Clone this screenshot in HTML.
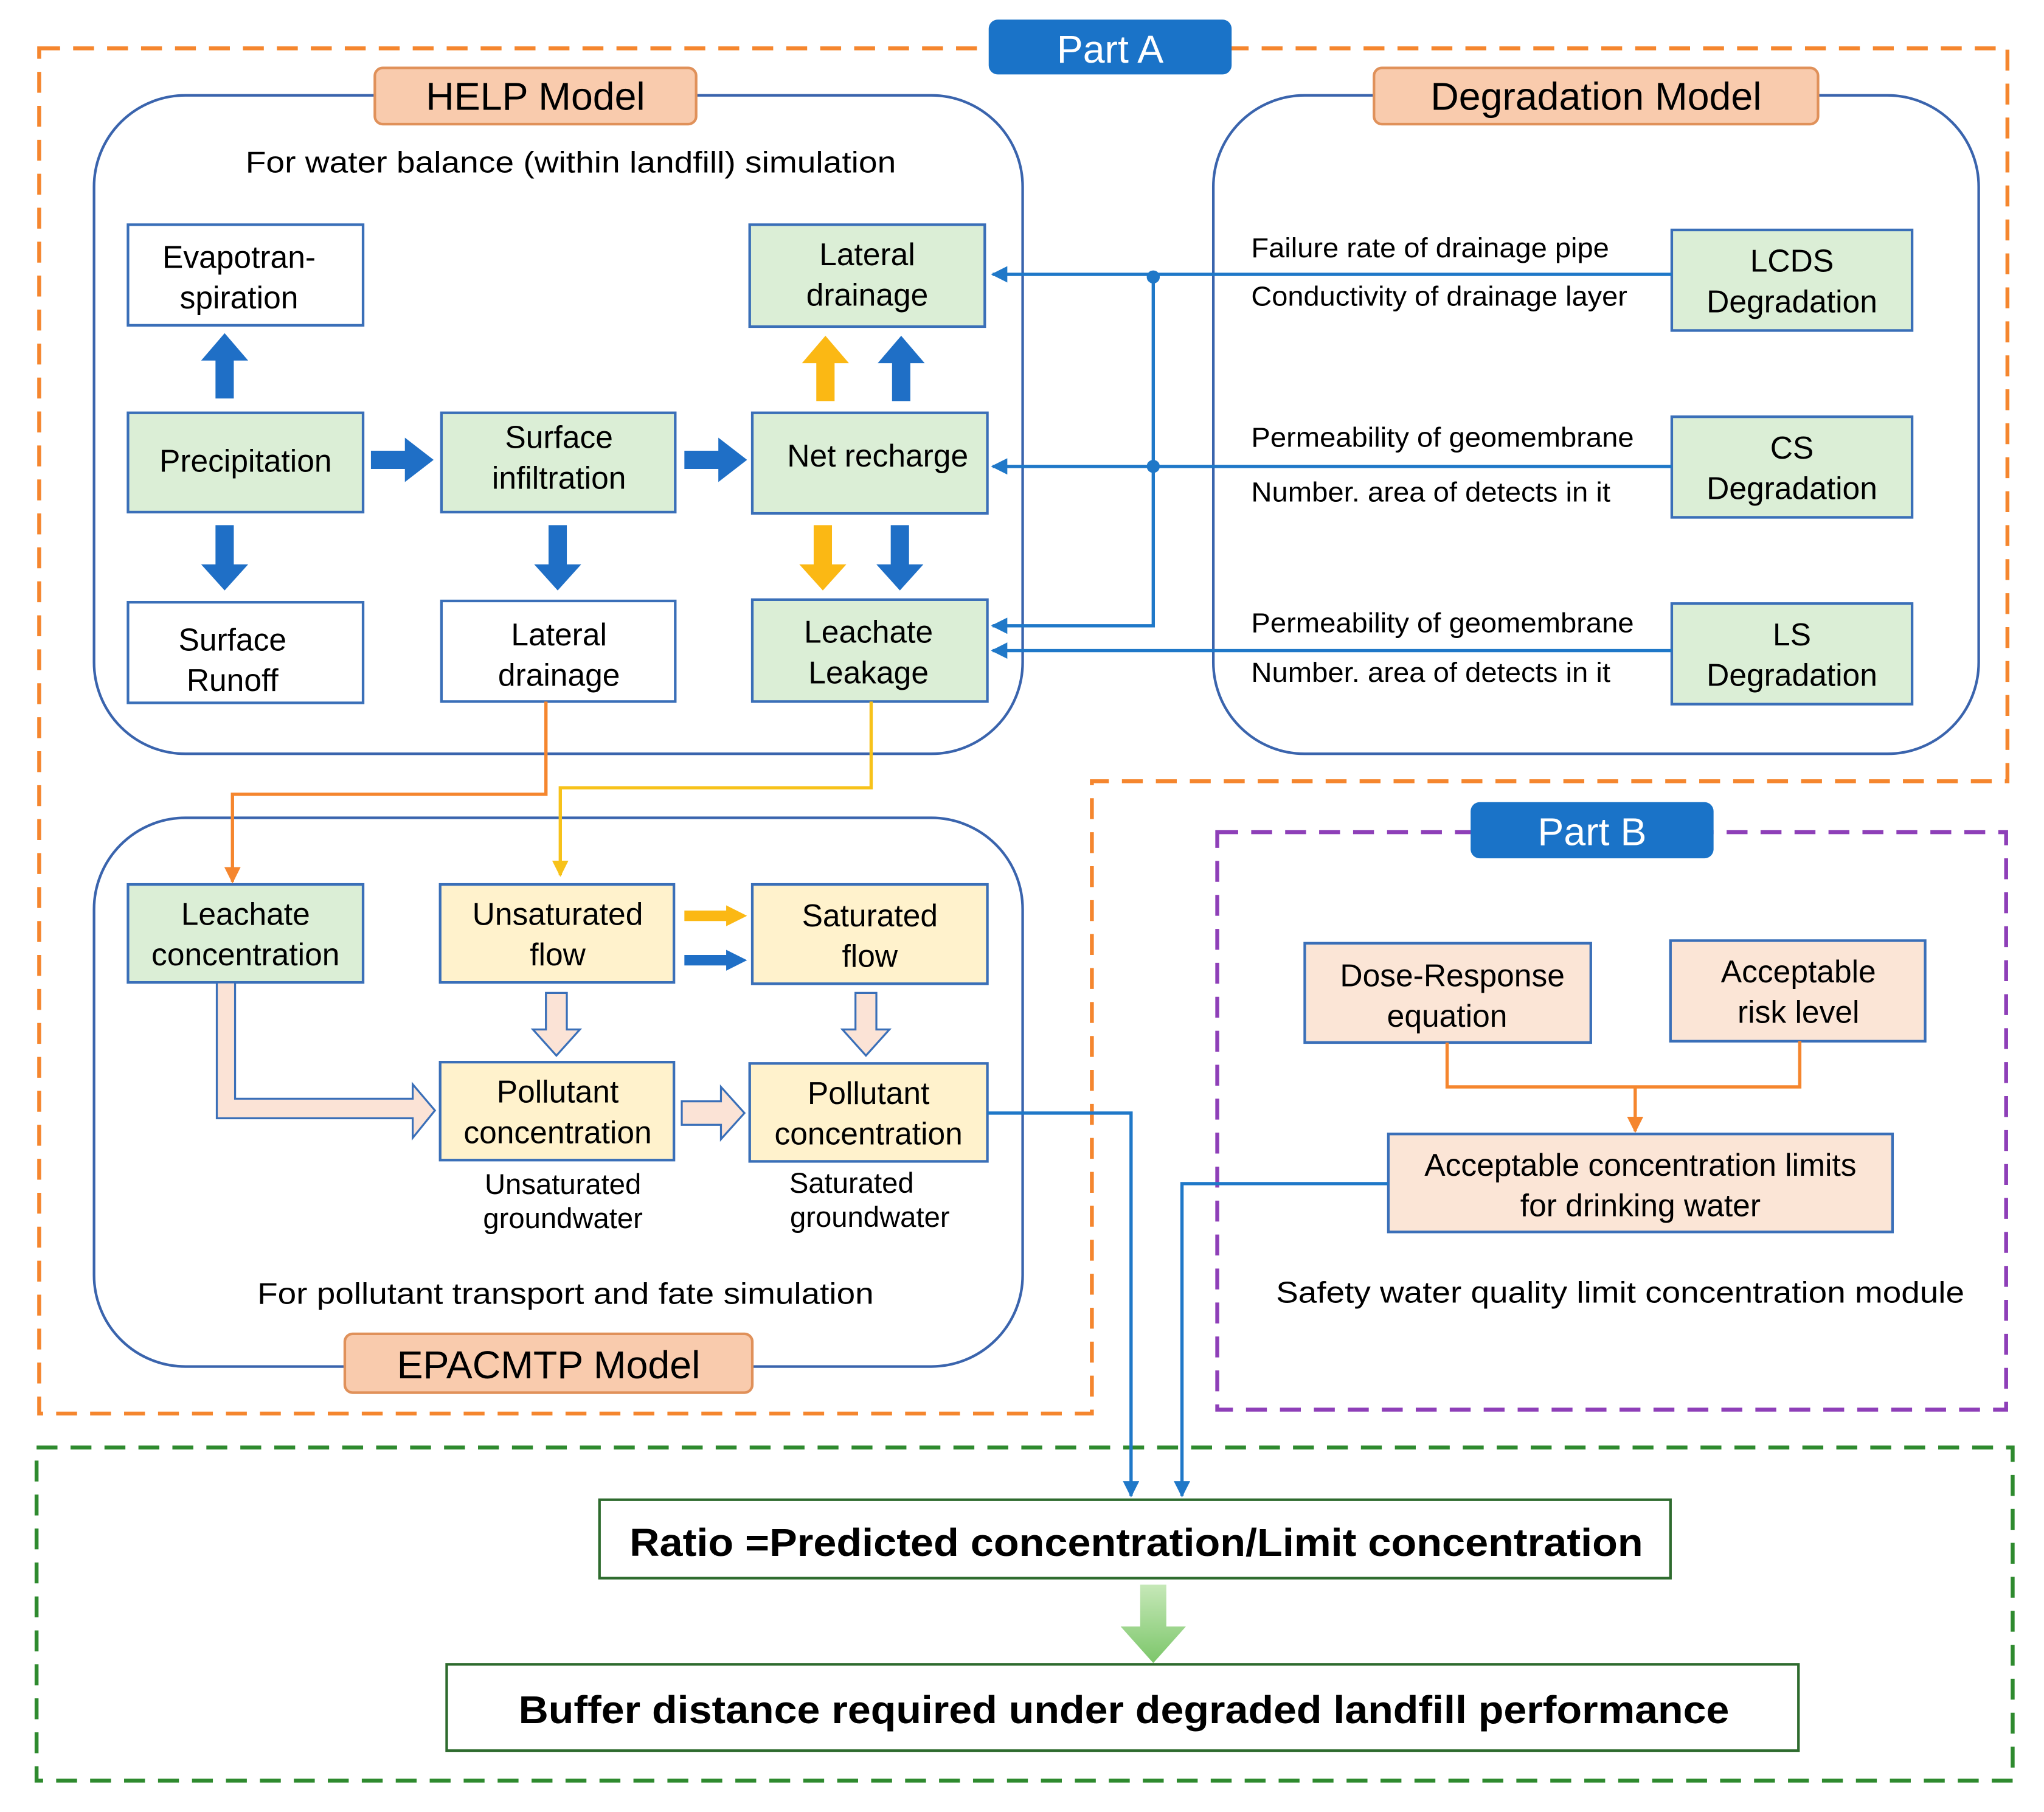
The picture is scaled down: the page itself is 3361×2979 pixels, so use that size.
<!DOCTYPE html>
<html><head><meta charset="utf-8"><style>html,body{margin:0;padding:0;background:#fff}svg{display:block}text{font-family:"Liberation Sans",Arial,sans-serif;fill:#000}</style></head>
<body>
<svg width="3361" height="2979" viewBox="0 0 1565 1387" preserveAspectRatio="none" xmlns="http://www.w3.org/2000/svg">
<defs>
<marker id="ab" viewBox="0 0 10 10" refX="9" refY="5" markerWidth="5" markerHeight="5" orient="auto"><path d="M0,0L10,5L0,10z" fill="#1f78c8"/></marker>
<marker id="ao" viewBox="0 0 10 10" refX="9" refY="5" markerWidth="5" markerHeight="5" orient="auto"><path d="M0,0L10,5L0,10z" fill="#f5862e"/></marker>
<marker id="ay" viewBox="0 0 10 10" refX="9" refY="5" markerWidth="5" markerHeight="5" orient="auto"><path d="M0,0L10,5L0,10z" fill="#f7c21a"/></marker>
<linearGradient id="gg" x1="0" y1="0" x2="0" y2="1"><stop offset="0" stop-color="#c6e8b8"/><stop offset="1" stop-color="#7cc66a"/></linearGradient>
</defs>

<path d="M30,37 H1537 V598 H836 V1082 H30 Z" fill="none" stroke="#f5862e" stroke-width="3" stroke-dasharray="16,10"/>
<rect x="932" y="637" width="604" height="442" fill="none" stroke="#8e3fb8" stroke-width="3" stroke-dasharray="16,10"/>
<rect x="28" y="1108" width="1513" height="255" fill="none" stroke="#2e8a2e" stroke-width="3" stroke-dasharray="16,10"/>

<rect x="757" y="15" width="186" height="42" rx="7" fill="#1a73c8"/>
<text x="850" y="48" font-size="30" text-anchor="middle" style="fill:#fff">Part A</text>
<rect x="1126" y="614" width="186" height="43" rx="7" fill="#1a73c8"/>
<text x="1219" y="647" font-size="30" text-anchor="middle" style="fill:#fff">Part B</text>

<rect x="72" y="73" width="711" height="504" rx="70" fill="none" stroke="#3a64ad" stroke-width="2"/>
<rect x="929" y="73" width="586" height="504" rx="70" fill="none" stroke="#3a64ad" stroke-width="2"/>
<rect x="72" y="626" width="711" height="420" rx="70" fill="none" stroke="#3a64ad" stroke-width="2"/>

<g fill="#f9cbad" stroke="#e0915a" stroke-width="2">
<rect x="287" y="52" width="246" height="43" rx="6"/>
<rect x="1052" y="52" width="340" height="43" rx="6"/>
<rect x="264" y="1021" width="312" height="45" rx="6"/>
</g>
<text x="410" y="84" font-size="30" text-anchor="middle">HELP Model</text>
<text x="1222" y="84" font-size="30" text-anchor="middle">Degradation Model</text>
<text x="420" y="1055" font-size="30" text-anchor="middle">EPACMTP Model</text>

<text x="188" y="132" font-size="23" textLength="498" lengthAdjust="spacingAndGlyphs">For water balance (within landfill) simulation</text>

<g stroke="#3a6fb8" stroke-width="2">
<rect x="98" y="172" width="180" height="77" fill="#fff"/>
<rect x="574" y="172" width="180" height="78" fill="#dbeed6"/>
<rect x="98" y="316" width="180" height="76" fill="#dbeed6"/>
<rect x="338" y="316" width="179" height="76" fill="#dbeed6"/>
<rect x="576" y="316" width="180" height="77" fill="#dbeed6"/>
<rect x="98" y="461" width="180" height="77" fill="#fff"/>
<rect x="338" y="460" width="179" height="77" fill="#fff"/>
<rect x="576" y="459" width="180" height="78" fill="#dbeed6"/>
<rect x="1280" y="176" width="184" height="77" fill="#dbeed6"/>
<rect x="1280" y="319" width="184" height="77" fill="#dbeed6"/>
<rect x="1280" y="462" width="184" height="77" fill="#dbeed6"/>
<rect x="98" y="677" width="180" height="75" fill="#dbeed6"/>
<rect x="337" y="677" width="179" height="75" fill="#fff2cc"/>
<rect x="576" y="677" width="180" height="76" fill="#fff2cc"/>
<rect x="337" y="813" width="179" height="75" fill="#fff2cc"/>
<rect x="574" y="814" width="182" height="75" fill="#fff2cc"/>
<rect x="999" y="722" width="219" height="76" fill="#fbe5d6"/>
<rect x="1279" y="720" width="195" height="77" fill="#fbe5d6"/>
<rect x="1063" y="868" width="386" height="75" fill="#fbe5d6"/>
</g>
<g font-size="24" text-anchor="middle">
<text x="183" y="205">Evapotran-</text><text x="183" y="236">spiration</text>
<text x="664" y="203">Lateral</text><text x="664" y="234">drainage</text>
<text x="188" y="361">Precipitation</text>
<text x="428" y="343">Surface</text><text x="428" y="374">infiltration</text>
<text x="672" y="357">Net recharge</text>
<text x="178" y="498">Surface</text><text x="178" y="529">Runoff</text>
<text x="428" y="494">Lateral</text><text x="428" y="525">drainage</text>
<text x="665" y="492">Leachate</text><text x="665" y="523">Leakage</text>
<text x="1372" y="208">LCDS</text><text x="1372" y="239">Degradation</text>
<text x="1372" y="351">CS</text><text x="1372" y="382">Degradation</text>
<text x="1372" y="494">LS</text><text x="1372" y="525">Degradation</text>
<text x="188" y="708">Leachate</text><text x="188" y="739">concentration</text>
<text x="427" y="708">Unsaturated</text><text x="427" y="739">flow</text>
<text x="666" y="709">Saturated</text><text x="666" y="740">flow</text>
<text x="427" y="844">Pollutant</text><text x="427" y="875">concentration</text>
<text x="665" y="845">Pollutant</text><text x="665" y="876">concentration</text>
<text x="1112" y="755">Dose-Response</text><text x="1108" y="786">equation</text>
<text x="1377" y="752">Acceptable</text><text x="1377" y="783">risk level</text>
<text x="1256" y="900">Acceptable concentration limits</text><text x="1256" y="931">for drinking water</text>
</g>

<g font-size="21">
<text x="958" y="197" textLength="274" lengthAdjust="spacingAndGlyphs">Failure rate of drainage pipe</text>
<text x="958" y="234" textLength="288" lengthAdjust="spacingAndGlyphs">Conductivity of drainage layer</text>
<text x="958" y="342" textLength="293" lengthAdjust="spacingAndGlyphs">Permeability of geomembrane</text>
<text x="958" y="384" textLength="275" lengthAdjust="spacingAndGlyphs">Number. area of detects in it</text>
<text x="958" y="484" textLength="293" lengthAdjust="spacingAndGlyphs">Permeability of geomembrane</text>
<text x="958" y="522" textLength="275" lengthAdjust="spacingAndGlyphs">Number. area of detects in it</text>
</g>
<g font-size="22" text-anchor="middle">
<text x="431" y="914">Unsaturated</text><text x="431" y="940">groundwater</text>
<text x="652" y="913">Saturated</text><text x="666" y="939">groundwater</text>
</g>
<text x="197" y="998" font-size="23" textLength="472" lengthAdjust="spacingAndGlyphs">For pollutant transport and fate simulation</text>
<text x="977" y="997" font-size="23" textLength="527" lengthAdjust="spacingAndGlyphs">Safety water quality limit concentration module</text>

<g fill="none" stroke="#1f78c8" stroke-width="2.5">
<path d="M1280,210 H760" marker-end="url(#ab)"/>
<path d="M1280,357 H760" marker-end="url(#ab)"/>
<path d="M883,210 V479 H760" marker-end="url(#ab)"/>
<path d="M1280,498 H760" marker-end="url(#ab)"/>
<path d="M756,852 H866 V1145" marker-end="url(#ab)"/>
<path d="M1063,906 H905 V1145" marker-end="url(#ab)"/>
</g>
<circle cx="883" cy="212" r="5" fill="#1f78c8"/>
<circle cx="883" cy="357" r="5" fill="#1f78c8"/>

<path d="M418,537 V608 H178 V675" fill="none" stroke="#f5862e" stroke-width="2.5" marker-end="url(#ao)"/>
<path d="M667,537 V603 H429 V670" fill="none" stroke="#f7c21a" stroke-width="2.5" marker-end="url(#ay)"/>
<path d="M1108,798 V832 H1378 V797 M1252,832 V866" fill="none" stroke="#f5862e" stroke-width="2.5" marker-end="url(#ao)"/>

<g fill="#1f6fc6">
<polygon points="172,255 190,276 179,276 179,305 165,305 165,276 154,276"/>
<polygon points="165,402 179,402 179,432 190,432 172,452 154,432 165,432"/>
<polygon points="284,345 310,345 310,335 332,352 310,369 310,359 284,359"/>
<polygon points="524,345 550,345 550,335 572,352 550,369 550,359 524,359"/>
<polygon points="420,402 434,402 434,432 445,432 427,452 409,432 420,432"/>
<polygon points="690,257 708,278 697,278 697,307 683,307 683,278 672,278"/>
<polygon points="682,402 696,402 696,432 707,432 689,452 671,432 682,432"/>
<polygon points="524,731 556,731 556,727 572,735 556,743 556,739 524,739"/>
</g>
<g fill="#fbb814">
<polygon points="632,257 650,278 639,278 639,307 625,307 625,278 614,278"/>
<polygon points="623,402 637,402 637,432 648,432 630,452 612,432 623,432"/>
<polygon points="524,697 556,697 556,693 572,701 556,709 556,705 524,705"/>
</g>
<g fill="#fbe3d6" stroke="#3a6fb8" stroke-width="1.5">
<polygon points="418,760 434,760 434,788 444,788 426,808 408,788 418,788"/>
<polygon points="655,760 671,760 671,788 681,788 663,808 645,788 655,788"/>
<polygon points="166,752 180,752 180,841 316,841 316,830 333,850 316,871 316,856 166,856"/>
<polygon points="522,843 552,843 552,832 570,852 552,872 552,861 522,861"/>
</g>

<rect x="459" y="1148" width="820" height="60" fill="#fff" stroke="#2e6b2e" stroke-width="2"/>
<text x="482" y="1191" font-size="30" font-weight="bold" textLength="776" lengthAdjust="spacingAndGlyphs">Ratio =Predicted concentration/Limit concentration</text>
<polygon points="873,1213 893,1213 893,1245 908,1245 883,1273 858,1245 873,1245" fill="url(#gg)"/>
<rect x="342" y="1274" width="1035" height="66" fill="#fff" stroke="#2e6b2e" stroke-width="2"/>
<text x="397" y="1319" font-size="30" font-weight="bold" textLength="927" lengthAdjust="spacingAndGlyphs">Buffer distance required under degraded landfill performance</text>
</svg>
</body></html>
